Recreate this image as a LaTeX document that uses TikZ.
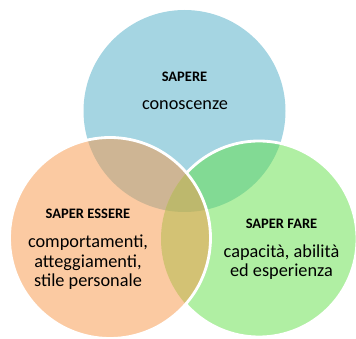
\documentclass[tikz,border=0pt]{standalone}
\usepackage{fontspec}
\setmainfont{Carlito}

% Colori delle regioni
\definecolor{sapereBlu}{HTML}{A5D5E2}
\definecolor{fareVerde}{HTML}{B0EFA3}
\definecolor{essereArancio}{HTML}{FBCAA2}
\definecolor{bluVerde}{HTML}{82DA94}
\definecolor{bluArancio}{HTML}{CEB594}
\definecolor{arancioVerde}{HTML}{D3C274}
\definecolor{tuttiTre}{HTML}{BDB86D}

\begin{document}
\begin{tikzpicture}[x=0.025cm, y=-0.025cm,
        bordo/.style={draw=white, line width=2pt},
        titolo/.style={font=\fontsize{10.3}{12}\selectfont\bfseries, anchor=base},
        testo/.style={font=\fontsize{13}{14.2}\selectfont, align=center, anchor=base}]
        % Definizioni dimensioni
        \def\cerchioBlu{(184.5,111) circle (101)}
        \def\cerchioVerde{(259,239) circle (98)}
        \def\cerchioArancio{(110,238) circle (100.5)}

        \useasboundingbox (0,0) rectangle (356,339);

        % Cerchio SAPERE
        \fill[sapereBlu] \cerchioBlu;

        % Cerchio SAPER FARE
        \fill[fareVerde] \cerchioVerde;
        \begin{scope}
            \clip \cerchioBlu;
            \fill[bluVerde] \cerchioVerde;
        \end{scope}
        \draw[bordo] \cerchioVerde;

        % Cerchio SAPER ESSERE
        \fill[essereArancio] \cerchioArancio;
        \begin{scope}
            \clip \cerchioBlu;
            \fill[bluArancio] \cerchioArancio;
        \end{scope}
        \begin{scope}
            \clip \cerchioVerde;
            \fill[arancioVerde] \cerchioArancio;
            \clip \cerchioBlu;
            \fill[tuttiTre] \cerchioArancio;
        \end{scope}
        \draw[bordo] \cerchioArancio;

        % Testi (base = ultima riga)
        \node[titolo] (sapere) at (184.5,82) {SAPERE};
        \node[testo] (conoscenze) at (185,110) {conoscenze};
        \node[titolo] (saperEssere) at (88,219) {SAPER ESSERE};
        \node[testo] (essereTesto) at (88,287) {comportamenti,\\atteggiamenti,\\stile personale};
        \node[titolo] (saperFare) at (281.5,229) {SAPER FARE};
        \node[testo] (fareTesto) at (281.5,277) {capacità, abilità\\ed esperienza};

    \end{tikzpicture}
\end{document}
